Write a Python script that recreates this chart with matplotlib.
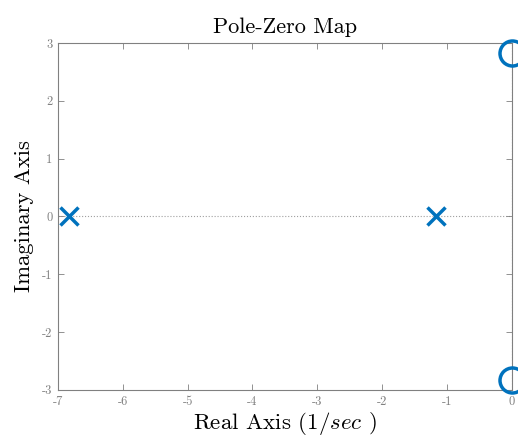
import numpy as np
import matplotlib
matplotlib.use('Agg')
import matplotlib.pyplot as plt

# Полюса и нули системы
pole_re = [-6.83, -1.17]
pole_im = [0.0, 0.0]
zero_re = [0.0, 0.0]
zero_im = [2.83, -2.83]

x_ticks = [-7, -6, -5, -4, -3, -2, -1, 0]
y_ticks = [-3, -2, -1, 0, 1, 2, 3]

plt.rcParams['font.family'] = 'serif'
plt.rcParams['font.serif'] = ['cmr10']
plt.rcParams['mathtext.fontset'] = 'cm'
plt.rcParams['axes.unicode_minus'] = False

fig = plt.figure(figsize=(5.18, 4.41), dpi=100)
ax = fig.add_axes([0.112, 0.116, 0.876, 0.7865])

blue = '#0072BD'
gray = '#808080'

ax.axhline(0, color='#a0a0a0', lw=0.8, ls=':', zorder=1)
ax.axvline(0, color='#a0a0a0', lw=0.8, ls=':', zorder=1)

ax.plot(pole_re, pole_im, ls='none', marker='x', ms=13, mew=2.5,
        color=blue, clip_on=False, zorder=3)
ax.plot(zero_re, zero_im, ls='none', marker='o', ms=18, mew=2.5,
        mfc='none', color=blue, clip_on=False, zorder=3)

ax.set_xlim(-7, 0)
ax.set_ylim(-3, 3)
ax.set_xticks(x_ticks)
ax.set_yticks(y_ticks)
ax.set_xticklabels([str(t) for t in x_ticks])
ax.set_yticklabels([str(t) for t in y_ticks])

ax.tick_params(direction='in', length=4, width=0.6, colors=gray,
               labelsize=9, top=True, right=True, pad=4)
for s in ax.spines.values():
    s.set_color(gray)
    s.set_linewidth(0.8)

ax.set_title('Pole-Zero Map', fontsize=16, pad=7)
ax.set_xlabel(r'Real Axis (1/$sec$ )', fontsize=16.5, labelpad=2)
ax.set_ylabel('Imaginary Axis', fontsize=16.3, labelpad=6)

fig.savefig('out.png', dpi=100)
